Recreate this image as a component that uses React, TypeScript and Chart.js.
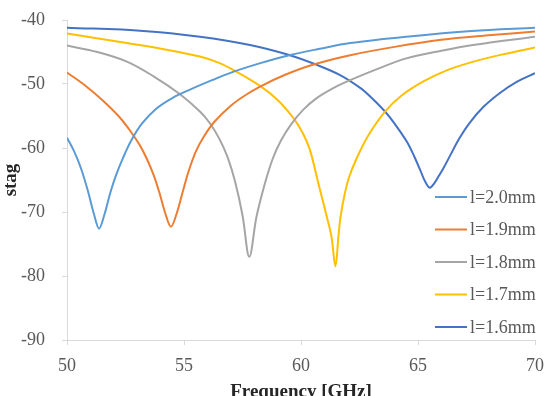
import React, { useEffect, useRef } from "react";
import { Chart, registerables } from "chart.js";

Chart.register(...registerables);

// Series names and colours
const seriesLabels = ["l=2.0mm", "l=1.9mm", "l=1.8mm", "l=1.7mm", "l=1.6mm"];
const seriesColors = ["#5B9BD5", "#ED7D31", "#A5A5A5", "#FFC000", "#4472C4"];

// l = 2.0 mm
const freqL20 = [50, 50.3, 50.6, 50.9, 51.15, 51.37, 51.6, 51.85, 52.1, 52.4, 52.75, 53.2, 53.8, 54.5, 55.3, 56.2, 57.1, 58.3, 59.5, 60.8, 62.1, 64.5, 67.3, 70];
const stagL20 = [-58.4, -60.5, -63.2, -66.8, -70.3, -72.6, -70.4, -67.0, -64.2, -61.5, -58.8, -56.2, -53.9, -52.2, -50.8, -49.4, -48.1, -46.7, -45.5, -44.5, -43.6, -42.6, -41.7, -41.2];

// l = 1.9 mm
const freqL19 = [50, 50.8, 51.54, 52.2, 52.7, 53.1, 53.4, 53.7, 53.95, 54.2, 54.44, 54.69, 54.95, 55.2, 55.5, 55.85, 56.3, 57.0, 57.6, 58.25, 59.3, 60.5, 62.1, 64, 66, 68, 70];
const stagL19 = [-48.2, -50.3, -52.6, -55.0, -57.3, -59.5, -61.6, -64.2, -67.0, -70.2, -72.3, -70.2, -66.8, -63.6, -60.6, -58.2, -55.9, -53.4, -51.8, -50.4, -48.6, -47.0, -45.5, -44.2, -43.1, -42.4, -41.8];

// l = 1.8 mm
const freqL18 = [50, 51.3, 52.56, 53.7, 54.83, 55.68, 56.1, 56.5, 56.85, 57.18, 57.5, 57.79, 58.1, 58.46, 58.8, 59.15, 59.6, 60.1, 60.67, 61.4, 62.1, 63.3, 64.5, 66, 67.35, 70];
const stagL18 = [-44.0, -45.0, -46.5, -48.8, -51.6, -54.3, -56.1, -58.5, -61.3, -65.2, -70.5, -77.0, -70.7, -65.5, -61.6, -58.8, -56.2, -54.0, -52.2, -50.6, -49.4, -47.6, -46.0, -44.8, -43.9, -42.6];

// l = 1.7 mm
const freqL17 = [50, 52.55, 54.2, 55.68, 56.5, 57.1, 58.25, 59.0, 59.67, 60.05, 60.38, 60.74, 61.1, 61.3, 61.47, 61.6, 61.68, 61.85, 62.05, 62.38, 62.9, 63.59, 64.3, 65.23, 66.2, 67.37, 68.7, 70];
const stagL17 = [-42.1, -43.6, -44.6, -45.7, -46.7, -47.8, -50.3, -52.5, -55.3, -57.5, -60.3, -65.5, -70.7, -73.8, -78.5, -73.8, -71.0, -67.5, -64.6, -61.6, -57.9, -54.3, -51.8, -49.6, -47.9, -46.5, -45.3, -44.3];

// l = 1.6 mm
const freqL16 = [50, 53.26, 55.68, 57.82, 59.53, 60.67, 61.67, 62.53, 63.0, 63.59, 64.0, 64.52, 64.85, 65.1, 65.3, 65.5, 65.7, 65.9, 66.08, 66.4, 66.75, 67.2, 67.79, 68.5, 69.2, 70];
const stagL16 = [-41.2, -41.7, -42.6, -43.9, -45.5, -47.0, -48.6, -50.6, -52.1, -54.3, -56.2, -59.0, -61.4, -63.5, -65.2, -66.2, -65.5, -64.3, -63.2, -61.0, -58.6, -56.1, -53.6, -51.4, -49.7, -48.3];

// Axis ranges
const xMin = 50;
const xMax = 70;
const xStep = 5;
const yMin = -90;
const yMax = -40;
const yStep = 10;

const freqSets = [freqL20, freqL19, freqL18, freqL17, freqL16];
const stagSets = [stagL20, stagL19, stagL18, stagL17, stagL16];

const SERIF = "'Liberation Serif', 'Times New Roman', serif";

// Legend drawn inside the plot area, bottom right
const insideLegend = {
  id: "insideLegend",
  afterDraw(chart: any) {
    const { ctx, chartArea } = chart;
    const rowGap = 32.5;
    const n = chart.data.datasets.length;
    ctx.save();
    ctx.font = `18px ${SERIF}`;
    ctx.textBaseline = "middle";
    ctx.textAlign = "left";
    chart.data.datasets.forEach((ds: any, i: number) => {
      const y = chartArea.bottom - 13 - (n - 1 - i) * rowGap;
      ctx.strokeStyle = ds.borderColor;
      ctx.lineWidth = 2;
      ctx.beginPath();
      ctx.moveTo(chartArea.right - 100, y);
      ctx.lineTo(chartArea.right - 68, y);
      ctx.stroke();
      ctx.fillStyle = "#595959";
      ctx.fillText(ds.label, chartArea.right - 65, y + 1);
    });
    ctx.restore();
  },
};

export default function App() {
  const canvasRef = useRef<HTMLCanvasElement | null>(null);

  useEffect(() => {
    if (!canvasRef.current) return;
    const datasets = seriesLabels.map((label, i) => ({
      label,
      data: freqSets[i].map((f, j) => ({ x: f, y: stagSets[i][j] })),
      borderColor: seriesColors[i],
      backgroundColor: seriesColors[i],
      borderWidth: 2,
      pointRadius: 0,
      fill: false,
      tension: 0.35,
    }));

    const chart = new Chart(canvasRef.current, {
      type: "line",
      data: { datasets },
      options: {
        animation: false,
        responsive: false,
        devicePixelRatio: 1,
        layout: { padding: { top: 20, right: 12, left: 0, bottom: 0 } },
        plugins: {
          legend: { display: false },
          tooltip: { enabled: false },
        },
        scales: {
          x: {
            type: "linear",
            min: xMin,
            max: xMax,
            ticks: {
              stepSize: xStep,
              color: "#595959",
              font: { family: SERIF, size: 18 },
              padding: 10,
            },
            grid: {
              display: true,
              drawOnChartArea: false,
              drawTicks: true,
              tickLength: 5,
              color: "#d9d9d9",
            },
            border: { color: "#d9d9d9", width: 1 },
            title: {
              display: true,
              text: "Frequency [GHz]",
              color: "#262626",
              font: { family: SERIF, size: 19, weight: "bold" },
              padding: { top: 0, bottom: -7 },
            },
            afterFit: (scale: any) => {
              scale.height = 56;
              scale.paddingLeft = 0;
              scale.paddingRight = 0;
            },
          },
          y: {
            type: "linear",
            min: yMin,
            max: yMax,
            ticks: {
              stepSize: yStep,
              color: "#595959",
              font: { family: SERIF, size: 18 },
              padding: 17,
            },
            grid: {
              display: true,
              drawOnChartArea: false,
              drawTicks: true,
              tickLength: 5,
              color: "#d9d9d9",
            },
            border: { color: "#d9d9d9", width: 1 },
            title: {
              display: true,
              text: "stag",
              color: "#262626",
              font: { family: SERIF, size: 19, weight: "bold" },
              padding: { top: 0, bottom: 0 },
            },
            afterFit: (scale: any) => {
              scale.width = 67;
              scale.paddingTop = 0;
              scale.paddingBottom = 0;
            },
          },
        },
      },
      plugins: [insideLegend],
    });

    return () => chart.destroy();
  }, []);

  return (
    <div style={{ position: "fixed", left: 0, top: 0, width: 547, height: 396, overflow: "hidden", background: "#fff" }}>
      <canvas ref={canvasRef} width={547} height={396} style={{ display: "block" }} />
    </div>
  );
}
